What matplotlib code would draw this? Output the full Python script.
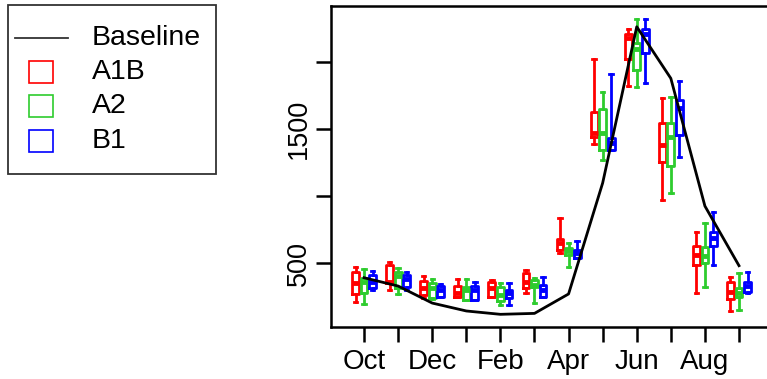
import matplotlib
matplotlib.use("Agg")
import matplotlib.pyplot as plt
from matplotlib.lines import Line2D
from matplotlib.patches import Rectangle

months = ["Oct", "Nov", "Dec", "Jan", "Feb", "Mar", "Apr", "May", "Jun", "Jul", "Aug", "Sep"]
baseline = [390, 328, 201, 142, 117, 124, 269, 1097, 2263, 1878, 925, 480]

# per month: (whisker low, q1, median, q3, whisker high)
a1b = [
    (211, 269, 350, 433, 472),
    (298, 348, 360, 485, 510),
    (241, 261, 313, 366, 403),
    (249, 249, 276, 331, 380),
    (244, 244, 311, 356, 373),
    (278, 311, 358, 423, 448),
    (572, 597, 652, 679, 833),
    (1388, 1443, 1467, 1629, 2020),
    (1821, 2020, 2180, 2209, 2246),
    (970, 1256, 1381, 1543, 1729),
    (278, 485, 560, 629, 729),
    (142, 229, 286, 361, 398),
]
a2 = [
    (192, 274, 360, 386, 455),
    (269, 311, 400, 435, 462),
    (231, 241, 313, 353, 380),
    (224, 224, 300, 323, 380),
    (187, 219, 261, 323, 348),
    (199, 323, 336, 373, 386),
    (472, 560, 592, 610, 647),
    (1269, 1343, 1467, 1647, 1774),
    (1811, 1937, 2095, 2139, 2321),
    (1020, 1226, 1443, 1543, 1736),
    (319, 498, 552, 622, 801),
    (149, 244, 273, 311, 423),
]
b1 = [
    (300, 311, 360, 410, 443),
    (298, 323, 380, 410, 435),
    (244, 244, 300, 328, 341),
    (224, 224, 298, 328, 358),
    (187, 236, 273, 298, 348),
    (249, 249, 298, 336, 398),
    (535, 535, 572, 597, 666),
    (1343, 1343, 1393, 1430, 1908),
    (1847, 2065, 2209, 2246, 2321),
    (1293, 1455, 1654, 1716, 1858),
    (485, 629, 684, 729, 878),
    (273, 286, 328, 361, 430),
]
scenarios = ["A1B", "A2", "B1"]
colors = ["#FF0000", "#2ECC2E", "#0000FF"]
y_ticks = [500, 1000, 1500, 2000]
y_ticklabels = ["500", "", "1500", ""]

W, H = 767, 379
fig = plt.figure(figsize=(W / 100, H / 100), dpi=100)
plt.rcParams['font.family'] = ['Liberation Sans', 'DejaVu Sans']

ax = fig.add_axes([331 / W, (H - 327) / H, (775 - 331) / W, (327 - 6) / H])

xpos = list(range(1, 13))
offsets = [-0.25, 0.0, 0.25]
lw = 2.0
for data, col, off in zip([a1b, a2, b1], colors, offsets):
    stats = []
    for (wl, q1, med, q3, wh) in data:
        stats.append(dict(whislo=wl, q1=q1, med=med, q3=q3, whishi=wh, fliers=[]))
    ax.bxp(stats, positions=[p + off for p in xpos], widths=0.2, capwidths=0.1,
           showfliers=False, manage_ticks=False,
           boxprops=dict(color=col, linewidth=lw),
           medianprops=dict(color=col, linewidth=3.5, solid_capstyle='butt'),
           whiskerprops=dict(color=col, linewidth=lw),
           capprops=dict(color=col, linewidth=lw))

ax.plot(xpos, baseline, color="black", linewidth=2.0, zorder=5)

ax.set_xlim(0.03, 1 + (775 - 364) / 34.09)
ax.set_ylim(22.4, 2418)

ax.set_xticks(xpos)
ax.set_xticklabels([m if i % 2 == 0 else "" for i, m in enumerate(months)], fontsize=20)
ax.set_yticks(y_ticks)
ax.set_yticklabels(y_ticklabels, fontsize=19.5, rotation=90, va='center')
ax.tick_params(axis='both', direction='out', length=11, width=1.8, colors='black')
ax.tick_params(axis='x', pad=5)
ax.tick_params(axis='y', pad=3)
for s in ax.spines.values():
    s.set_linewidth(1.8)

# legend (drawn manually in figure pixel coords)
def fx(x):
    return x / W

def fy(y):
    return 1 - y / H

fig.patches.append(Rectangle((fx(8), fy(174)), fx(216) - fx(8), fy(5) - fy(174),
                             transform=fig.transFigure, fill=False,
                             edgecolor="#333333", linewidth=1.3))
fig.lines.append(Line2D([fx(15), fx(68)], [fy(38), fy(38)], transform=fig.transFigure,
                        color="#333333", linewidth=1.3))
fig.text(fx(92), fy(38), "Baseline", fontsize=20.5, va='center', ha='left')
rows_y = [72, 106, 141]
for lab, col, yy in zip(scenarios, colors, rows_y):
    fig.patches.append(Rectangle((fx(29), fy(yy + 11)), fx(24), 22 / H,
                                 transform=fig.transFigure, fill=False,
                                 edgecolor=col, linewidth=1.2))
    fig.text(fx(92), fy(yy), lab, fontsize=20.5, va='center', ha='left')

fig.savefig("out.png", dpi=100)
